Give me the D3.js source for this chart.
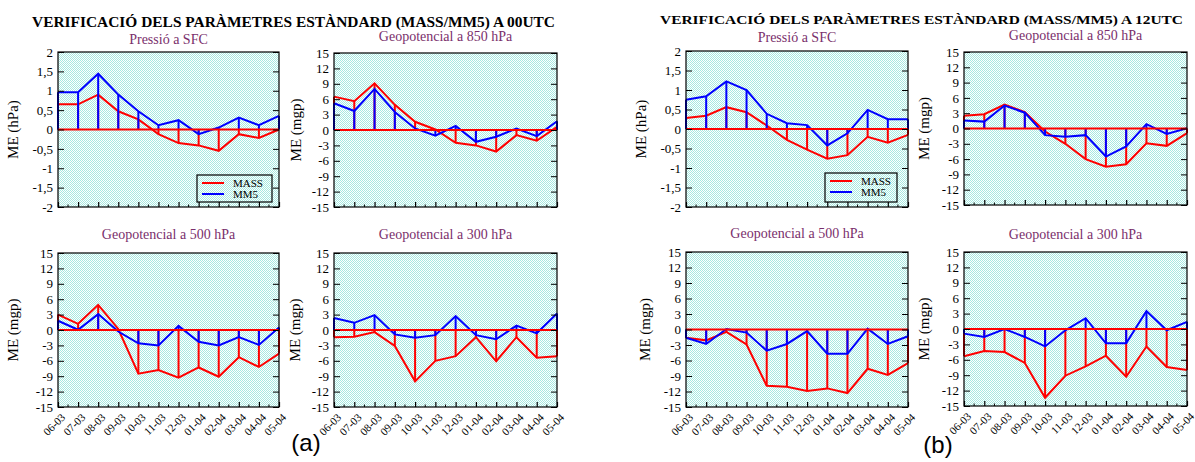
<!DOCTYPE html>
<html>
<head>
<meta charset="utf-8">
<script src="https://cdn.jsdelivr.net/npm/d3@7"></script>
<style>
  html, body { margin: 0; padding: 0; background: #ffffff; }
  svg { display: block; }
  .serif { font-family: "Liberation Serif", "Times New Roman", serif; }
</style>
</head>
<body>
<svg id="chart" width="1195" height="462"></svg>
<script>
// Monthly verification periods (month-year)
const months = ["06-03", "07-03", "08-03", "09-03", "10-03", "11-03",
                "12-03", "01-04", "02-04", "03-04", "04-04", "05-04"];

// Y tick values
const ticksHPa = [-2, -1.5, -1, -0.5, 0, 0.5, 1, 1.5, 2];
const ticksMgp = [-15, -12, -9, -6, -3, 0, 3, 6, 9, 12, 15];

// Mean error, 00 UTC runs
const sfc00Mass = [0.65, 0.65, 0.9, 0.47, 0.26, -0.12, -0.35, -0.41, -0.55, -0.12, -0.22, 0];
const sfc00Mm5  = [0.96, 0.96, 1.44, 0.9, 0.47, 0.11, 0.24, -0.12, 0.05, 0.31, 0.11, 0.35];
const z850_00Mass = [6.5, 5.6, 9.1, 4.9, 1.6, 0.1, -2.5, -3.0, -4.2, -1.0, -2.1, 0.6];
const z850_00Mm5  = [5.2, 3.7, 8.0, 3.5, 0.3, -1.1, 0.8, -2.3, -1.3, 0.3, -1.2, 1.7];
const z500_00Mass = [3.0, 1.2, 4.9, 0.2, -8.5, -7.8, -9.3, -7.3, -9.1, -5.3, -7.2, -4.6];
const z500_00Mm5  = [1.8, 0.05, 3.1, -0.3, -2.6, -3.0, 0.8, -2.3, -3.0, -1.4, -2.9, 0.5];
const z300_00Mass = [-1.4, -1.3, -0.4, -3.1, -10.0, -6.0, -5.1, -1.4, -6.1, -1.4, -5.4, -5.1];
const z300_00Mm5  = [2.35, 1.4, 2.9, -0.85, -1.5, -1.0, 2.7, -1.0, -1.8, 0.85, -0.65, 3.2];

// Mean error, 12 UTC runs
const sfc12Mass = [0.28, 0.34, 0.56, 0.43, 0.09, -0.28, -0.53, -0.76, -0.67, -0.2, -0.35, -0.15];
const sfc12Mm5  = [0.75, 0.84, 1.22, 1.0, 0.39, 0.15, 0.1, -0.42, -0.11, 0.49, 0.25, 0.25];
const z850_12Mass = [2.5, 2.8, 4.7, 3.2, -0.6, -3.0, -6.0, -7.5, -7.0, -2.9, -3.4, -0.9];
const z850_12Mm5  = [1.55, 1.35, 4.5, 3.1, -1.3, -1.6, -1.3, -5.5, -3.5, 0.85, -1.05, 0.05];
const z500_12Mass = [-1.6, -2.1, -0.45, -2.9, -10.9, -11.1, -11.9, -11.4, -12.3, -7.6, -8.8, -6.5];
const z500_12Mm5  = [-1.6, -2.8, 0.1, -0.6, -4.1, -2.8, -0.3, -4.7, -4.7, 0.15, -2.8, -1.3];
const z300_12Mass = [-5.3, -4.3, -4.5, -6.6, -13.4, -9.1, -7.3, -5.2, -9.3, -3.4, -7.4, -8.0];
const z300_12Mm5  = [-0.9, -1.55, 0, -1.55, -3.4, -0.25, 2.1, -2.8, -2.8, 3.5, -0.25, 1.4];

const headings = ["VERIFICACIÓ DELS PARÀMETRES ESTÀNDARD (MASS/MM5) A 00UTC",
                  "VERIFICACIÓ DELS PARÀMETRES ESTÀNDARD (MASS/MM5) A 12UTC"];
const seriesNames = ["MASS", "MM5"];

const RED = "#ff0000", BLUE = "#0000ff", TITLE_PURPLE = "#7a2f6c";

const svg = d3.select("#chart");

// Dotted cyan fill of each plotting area
const defs = svg.append("defs");
const pat = defs.append("pattern").attr("id", "dots")
  .attr("patternUnits", "userSpaceOnUse").attr("width", 2).attr("height", 2);
pat.append("rect").attr("width", 2).attr("height", 2).attr("fill", "#ffffff");
pat.append("rect").attr("x", 0).attr("y", 0).attr("width", 1).attr("height", 1).attr("fill", "#a6e9e1");
pat.append("rect").attr("x", 1).attr("y", 1).attr("width", 1).attr("height", 1).attr("fill", "#a6e9e1");

function fmtTick(v) {
  return String(v).replace(".", ",");
}

function panel(cfg) {
  const { box, domain, ticks, mass, mm5, title, titleY, unit, labelOffset, showX, legend } = cfg;
  const [x0, x1, y0, y1] = box;
  const g = svg.append("g");

  const x = d3.scalePoint().domain(months).range([x0, x1]).padding(0);
  const y = d3.scaleLinear().domain(domain).range([y1, y0]);

  g.append("rect").attr("x", x0).attr("y", y0)
    .attr("width", x1 - x0).attr("height", y1 - y0)
    .attr("fill", "url(#dots)");

  const line = d3.line().x((d, i) => x(months[i])).y(d => y(d));

  function drawSeries(vals, color) {
    g.append("g").selectAll("line").data(vals).join("line")
      .attr("x1", (d, i) => x(months[i])).attr("x2", (d, i) => x(months[i]))
      .attr("y1", y(0)).attr("y2", d => y(d))
      .attr("stroke", color).attr("stroke-width", 2);
    g.append("path").datum(vals).attr("d", line)
      .attr("fill", "none").attr("stroke", color).attr("stroke-width", 2)
      .attr("stroke-linejoin", "miter");
  }
  drawSeries(mass, RED);
  drawSeries(mm5, BLUE);

  // zero reference line
  g.append("line").attr("x1", x0).attr("x2", x1)
    .attr("y1", y(0)).attr("y2", y(0))
    .attr("stroke", RED).attr("stroke-width", 2);

  // left axis with inward ticks
  const left = g.append("g").attr("transform", `translate(${x0},0)`)
    .call(d3.axisLeft(y).tickValues(ticks).tickSize(-6).tickPadding(5).tickFormat(fmtTick));
  left.select(".domain").remove();
  left.selectAll("line").attr("stroke", "#000");
  left.selectAll("text").attr("class", "serif").attr("font-size", 13).attr("fill", "#000")
    .attr("font-family", null);

  // right axis, ticks only
  const right = g.append("g").attr("transform", `translate(${x1},0)`)
    .call(d3.axisRight(y).tickValues(ticks).tickSize(-6).tickFormat(""));
  right.select(".domain").remove();
  right.selectAll("line").attr("stroke", "#000");

  // bottom axis: major ticks at each month, minor tick between
  const bottom = g.append("g").attr("transform", `translate(0,${y1})`)
    .call(d3.axisBottom(x).tickSize(-5).tickFormat(""));
  bottom.select(".domain").remove();
  bottom.selectAll("line").attr("stroke", "#000").attr("stroke-width", 1.2);
  const mids = months.slice(1).map((m, i) => (x(months[i]) + x(m)) / 2);
  g.append("g").selectAll("line").data(mids).join("line")
    .attr("x1", d => d).attr("x2", d => d)
    .attr("y1", y1).attr("y2", y1 - 2.5)
    .attr("stroke", "#000");

  if (showX) {
    g.append("g").selectAll("text").data(months).join("text")
      .attr("class", "serif").attr("font-size", 11).attr("text-anchor", "end")
      .attr("transform", d => `translate(${x(d) + 8},${y1 + 11}) rotate(-45)`)
      .text(d => d);
  }

  // frame
  g.append("rect").attr("x", x0).attr("y", y0)
    .attr("width", x1 - x0).attr("height", y1 - y0)
    .attr("fill", "none").attr("stroke", "#000").attr("stroke-width", 1.2);

  // panel title
  g.append("text").attr("class", "serif").attr("font-size", 14)
    .attr("fill", TITLE_PURPLE).attr("text-anchor", "middle")
    .attr("x", (x0 + x1) / 2).attr("y", titleY).text(title);

  // y axis label
  g.append("text").attr("class", "serif").attr("font-size", 15)
    .attr("text-anchor", "middle")
    .attr("transform", `translate(${x0 - labelOffset},${(y0 + y1) / 2}) rotate(-90)`)
    .text(unit);

  if (legend) {
    const [lx, ly, lw, lh] = legend;
    const lg = g.append("g");
    lg.append("rect").attr("x", lx).attr("y", ly).attr("width", lw).attr("height", lh)
      .attr("fill", "none").attr("stroke", "#000").attr("stroke-width", 1.2);
    [RED, BLUE].forEach((c, i) => {
      const yy = ly + 8 + i * 11;
      lg.append("line").attr("x1", lx + 5).attr("x2", lx + 27)
        .attr("y1", yy).attr("y2", yy).attr("stroke", c).attr("stroke-width", 2);
      lg.append("text").attr("class", "serif").attr("font-size", 11)
        .attr("x", lx + 36).attr("y", yy + 3.5).text(seriesNames[i]);
    });
  }
}

// Block (a): 00 UTC
panel({ box: [58, 279, 52, 207], domain: [-2, 2], ticks: ticksHPa, mass: sfc00Mass, mm5: sfc00Mm5,
        title: "Pressió a SFC", titleY: 44, unit: "ME (hPa)", labelOffset: 40, showX: false,
        legend: [197, 175, 75, 27] });
panel({ box: [334, 557, 53, 207], domain: [-15, 15], ticks: ticksMgp, mass: z850_00Mass, mm5: z850_00Mm5,
        title: "Geopotencial a 850 hPa", titleY: 41, unit: "ME (mgp)", labelOffset: 33, showX: false });
panel({ box: [58, 279, 253, 407], domain: [-15, 15], ticks: ticksMgp, mass: z500_00Mass, mm5: z500_00Mm5,
        title: "Geopotencial a 500 hPa", titleY: 239, unit: "ME (mgp)", labelOffset: 40, showX: true });
panel({ box: [334, 557, 253, 407], domain: [-15, 15], ticks: ticksMgp, mass: z300_00Mass, mm5: z300_00Mm5,
        title: "Geopotencial a 300 hPa", titleY: 239, unit: "ME (mgp)", labelOffset: 34, showX: true });

// Block (b): 12 UTC
panel({ box: [686, 908, 51, 207], domain: [-2, 2], ticks: ticksHPa, mass: sfc12Mass, mm5: sfc12Mm5,
        title: "Pressió a SFC", titleY: 42, unit: "ME (hPa)", labelOffset: 40, showX: false,
        legend: [825, 173, 72, 29] });
panel({ box: [964, 1187, 52, 205], domain: [-15, 15], ticks: ticksMgp, mass: z850_12Mass, mm5: z850_12Mm5,
        title: "Geopotencial a 850 hPa", titleY: 39.5, unit: "ME (mgp)", labelOffset: 35, showX: false });
panel({ box: [686, 908, 252, 407], domain: [-15, 15], ticks: ticksMgp, mass: z500_12Mass, mm5: z500_12Mm5,
        title: "Geopotencial a 500 hPa", titleY: 238, unit: "ME (mgp)", labelOffset: 36, showX: true });
panel({ box: [964, 1187, 252, 406], domain: [-15, 15], ticks: ticksMgp, mass: z300_12Mass, mm5: z300_12Mm5,
        title: "Geopotencial a 300 hPa", titleY: 239, unit: "ME (mgp)", labelOffset: 35, showX: true });

// Block headings
svg.append("text").attr("class", "serif").attr("font-weight", "bold").attr("font-size", 14)
  .attr("x", 32).attr("y", 27).attr("textLength", 523).attr("lengthAdjust", "spacingAndGlyphs")
  .text(headings[0]);
svg.append("text").attr("class", "serif").attr("font-weight", "bold").attr("font-size", 13.5)
  .attr("x", 660).attr("y", 24).attr("textLength", 523).attr("lengthAdjust", "spacingAndGlyphs")
  .text(headings[1]);

// Block tags
svg.append("text").attr("font-family", "Liberation Sans, Arial, sans-serif").attr("font-size", 24)
  .attr("text-anchor", "middle").attr("x", 306).attr("y", 451).text("(a)");
svg.append("text").attr("font-family", "Liberation Sans, Arial, sans-serif").attr("font-size", 24)
  .attr("text-anchor", "middle").attr("x", 938).attr("y", 453).text("(b)");
</script>
</body>
</html>
